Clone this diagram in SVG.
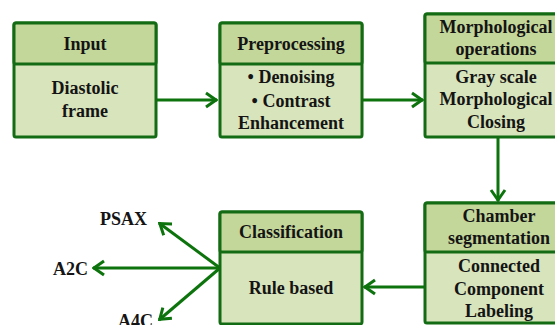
<svg xmlns="http://www.w3.org/2000/svg" width="555" height="325" viewBox="0 0 555 325">
<style>
.hd{fill:#c4d79b;stroke:#136b13;stroke-width:3}
.bd{fill:#d8e4bc;stroke:#136b13;stroke-width:3}
text{font-family:'Liberation Serif','Times New Roman',serif;font-weight:bold;font-size:18px;fill:#141414;text-anchor:middle}
.lbl{text-anchor:start}
.cn{stroke:#0d730d;stroke-width:3;fill:none}
</style>
<defs>
<marker id="ah" markerUnits="userSpaceOnUse" viewBox="-12 -9 14 18" refX="1" refY="0" markerWidth="14" markerHeight="18" orient="auto">
<path d="M-10,-7 L0,0 L-10,7" fill="none" stroke="#0d730d" stroke-width="3" stroke-linejoin="miter"/>
</marker>
</defs>
<g id="connectors">
<line class="cn" x1="156" y1="100" x2="217" y2="100" marker-end="url(#ah)"/>
<line class="cn" x1="362" y1="100" x2="423" y2="100" marker-end="url(#ah)"/>
<line class="cn" x1="498" y1="137" x2="498" y2="201" marker-end="url(#ah)"/>
<line class="cn" x1="425" y1="287" x2="364" y2="287" marker-end="url(#ah)"/>
<line class="cn" x1="220" y1="268" x2="159" y2="223" marker-end="url(#ah)"/>
<line class="cn" x1="220" y1="268" x2="93" y2="268" marker-end="url(#ah)"/>
<line class="cn" x1="220" y1="268" x2="159" y2="320" marker-end="url(#ah)"/>
</g>
<g id="input">
<rect class="bd" x="14" y="23" width="142" height="114" rx="2"/>
<rect class="hd" x="14" y="23" width="142" height="41" rx="2"/>
<text x="85" y="50">Input</text>
<text x="85" y="94">Diastolic</text>
<text x="85" y="117">frame</text>
</g>
<g id="preprocessing">
<rect class="bd" x="220" y="23" width="142" height="114" rx="2"/>
<rect class="hd" x="220" y="23" width="142" height="41" rx="2"/>
<text x="291" y="50">Preprocessing</text>
<text x="291" y="83">• Denoising</text>
<text x="291" y="107">• Contrast</text>
<text x="291" y="129">Enhancement</text>
</g>
<g id="morphological">
<rect class="bd" x="425" y="14" width="142" height="123" rx="2"/>
<rect class="hd" x="425" y="14" width="142" height="49" rx="2"/>
<text x="496" y="33">Morphological</text>
<text x="496" y="55">operations</text>
<text x="496" y="83">Gray scale</text>
<text x="496" y="105">Morphological</text>
<text x="496" y="128">Closing</text>
</g>
<g id="chamber">
<rect class="bd" x="425" y="203" width="146" height="120" rx="2"/>
<rect class="hd" x="425" y="203" width="146" height="49" rx="2"/>
<text x="499" y="222">Chamber</text>
<text x="499" y="244">segmentation</text>
<text x="499" y="272">Connected</text>
<text x="499" y="295">Component</text>
<text x="499" y="317">Labeling</text>
</g>
<g id="classification">
<rect class="bd" x="220" y="212" width="142" height="112" rx="2"/>
<rect class="hd" x="220" y="212" width="142" height="40" rx="2"/>
<text x="291" y="238">Classification</text>
<text x="291" y="294">Rule based</text>
</g>
<g id="labels">
<text class="lbl" x="100" y="225">PSAX</text>
<text class="lbl" x="53" y="275">A2C</text>
<text class="lbl" x="118" y="327">A4C</text>
</g>
</svg>
